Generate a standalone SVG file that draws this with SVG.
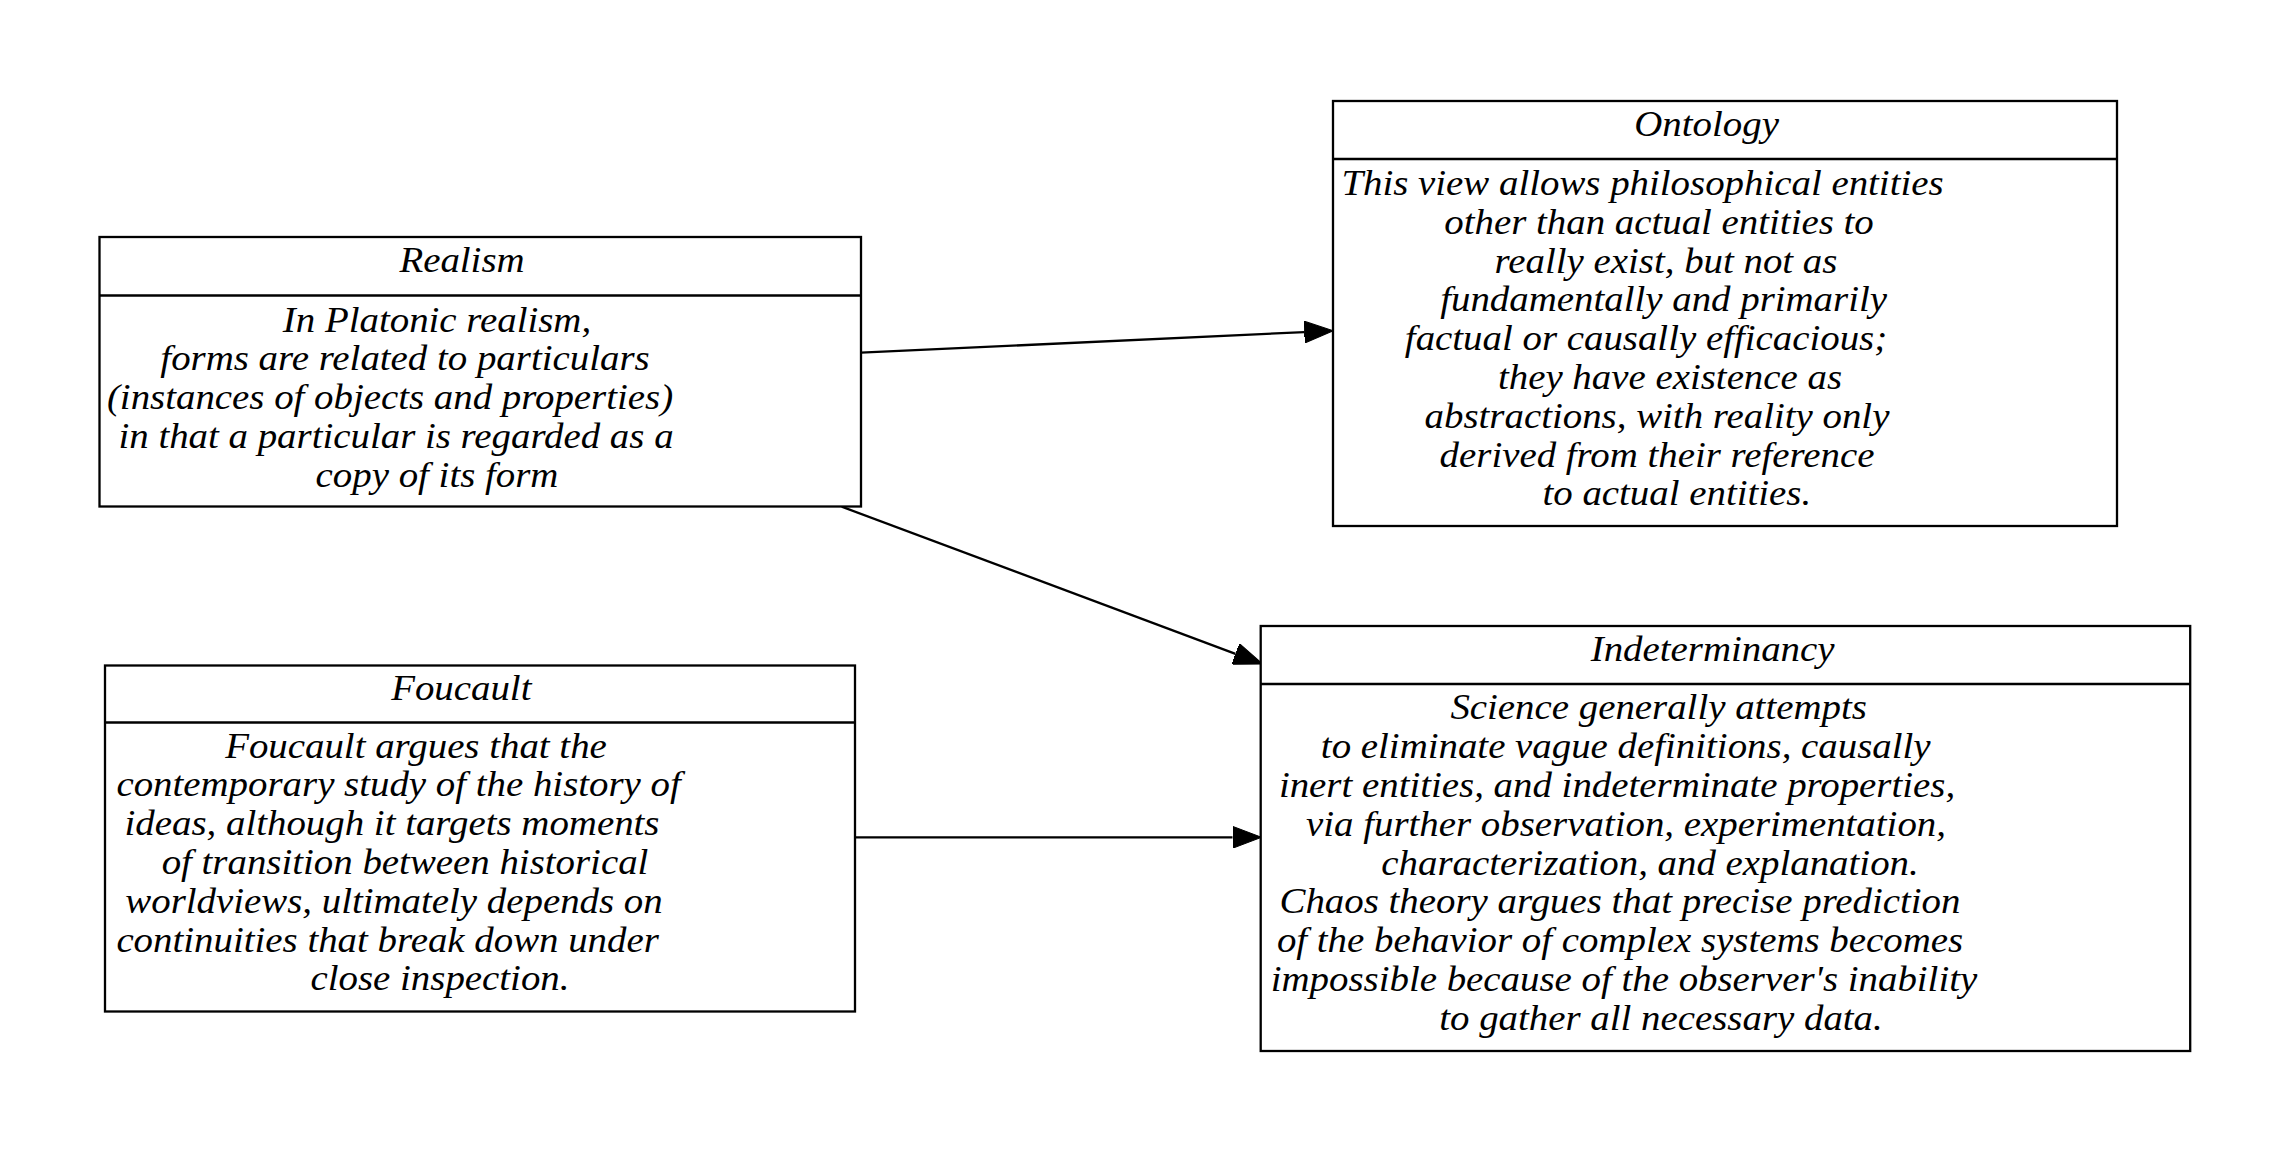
<svg xmlns="http://www.w3.org/2000/svg" width="2289" height="1150" viewBox="0 0 2289 1150">
<style>
  .box { fill: #ffffff; stroke: #000000; stroke-width: 2.3; }
  .sep { stroke: #000000; stroke-width: 2.3; fill: none; }
  .edge { stroke: #000000; stroke-width: 2.3; fill: none; }
  text { font-family: "Liberation Serif", "Times New Roman", serif; font-style: italic; font-size: 36.5px; fill: #000000; text-anchor: middle; }
</style>
<defs>
  <marker id="arrow" viewBox="0 0 29 22" refX="0" refY="11" markerWidth="29" markerHeight="22" markerUnits="userSpaceOnUse" orient="auto">
    <path d="M0,0 L29,11 L0,22 Z" fill="#000000" stroke="#000000" stroke-width="1"/>
  </marker>
</defs>
<rect x="0" y="0" width="2289" height="1150" fill="#ffffff"/>

<g id="connectors">
  <path id="edge-realism-ontology" class="edge" d="M861,352.7 L1304.3,332.05" marker-end="url(#arrow)"/>
  <path id="edge-realism-indeterminancy" class="edge" d="M841.7,506.7 L1235.5,653.85" marker-end="url(#arrow)"/>
  <path id="edge-foucault-indeterminancy" class="edge" d="M855,837.3 L1232.5,837.3" marker-end="url(#arrow)"/>
</g>

<g id="node-realism">
  <rect class="box" x="99.5" y="237" width="761.5" height="269.5"/>
  <line class="sep" x1="99.5" y1="295.5" x2="861" y2="295.5"/>
  <text transform="translate(462,272) scale(1.065,1)">Realism</text>
  <text transform="translate(437,331.5) scale(1.065,1)">In Platonic realism,</text>
  <text transform="translate(405,370.3) scale(1.065,1)">forms are related to particulars</text>
  <text transform="translate(390,409.1) scale(1.065,1)">(instances of objects and properties)</text>
  <text transform="translate(396,447.9) scale(1.065,1)">in that a particular is regarded as a</text>
  <text transform="translate(437,486.7) scale(1.065,1)">copy of its form</text>
</g>

<g id="node-ontology">
  <rect class="box" x="1333" y="101" width="784" height="425"/>
  <line class="sep" x1="1333" y1="159" x2="2117" y2="159"/>
  <text transform="translate(1706.6,136) scale(1.065,1)">Ontology</text>
  <text transform="translate(1642.5,195) scale(1.065,1)">This view allows philosophical entities</text>
  <text transform="translate(1659,233.8) scale(1.065,1)">other than actual entities to</text>
  <text transform="translate(1666,272.6) scale(1.065,1)">really exist, but not as</text>
  <text transform="translate(1663.6,311.4) scale(1.065,1)">fundamentally and primarily</text>
  <text transform="translate(1646,350.2) scale(1.065,1)">factual or causally efficacious;</text>
  <text transform="translate(1670,389) scale(1.065,1)">they have existence as</text>
  <text transform="translate(1657,427.8) scale(1.065,1)">abstractions, with reality only</text>
  <text transform="translate(1657,466.6) scale(1.065,1)">derived from their reference</text>
  <text transform="translate(1676.8,505.4) scale(1.065,1)">to actual entities.</text>
</g>

<g id="node-foucault">
  <rect class="box" x="105" y="665.5" width="750" height="346"/>
  <line class="sep" x1="105" y1="722.5" x2="855" y2="722.5"/>
  <text transform="translate(461.3,699.5) scale(1.065,1)">Foucault</text>
  <text transform="translate(416,757.5) scale(1.065,1)">Foucault argues that the</text>
  <text transform="translate(398.6,796.3) scale(1.065,1)">contemporary study of the history of</text>
  <text transform="translate(392,835.1) scale(1.065,1)">ideas, although it targets moments</text>
  <text transform="translate(405,873.9) scale(1.065,1)">of transition between historical</text>
  <text transform="translate(394,912.7) scale(1.065,1)">worldviews, ultimately depends on</text>
  <text transform="translate(387.6,951.5) scale(1.065,1)">continuities that break down under</text>
  <text transform="translate(440,990.3) scale(1.065,1)">close inspection.</text>
</g>

<g id="node-indeterminancy">
  <rect class="box" x="1260.7" y="626" width="929.5" height="425"/>
  <line class="sep" x1="1260.7" y1="684" x2="2190.2" y2="684"/>
  <text transform="translate(1712.6,661) scale(1.065,1)">Indeterminancy</text>
  <text transform="translate(1658.6,719.3) scale(1.065,1)">Science generally attempts</text>
  <text transform="translate(1625.7,758.1) scale(1.065,1)">to eliminate vague definitions, causally</text>
  <text transform="translate(1617,796.9) scale(1.065,1)">inert entities, and indeterminate properties,</text>
  <text transform="translate(1626,835.7) scale(1.065,1)">via further observation, experimentation,</text>
  <text transform="translate(1650,874.5) scale(1.065,1)">characterization, and explanation.</text>
  <text transform="translate(1620,913.3) scale(1.065,1)">Chaos theory argues that precise prediction</text>
  <text transform="translate(1620,952.1) scale(1.065,1)">of the behavior of complex systems becomes</text>
  <text transform="translate(1624,990.9) scale(1.065,1)">impossible because of the observer's inability</text>
  <text transform="translate(1661,1029.7) scale(1.065,1)">to gather all necessary data.</text>
</g>
</svg>
